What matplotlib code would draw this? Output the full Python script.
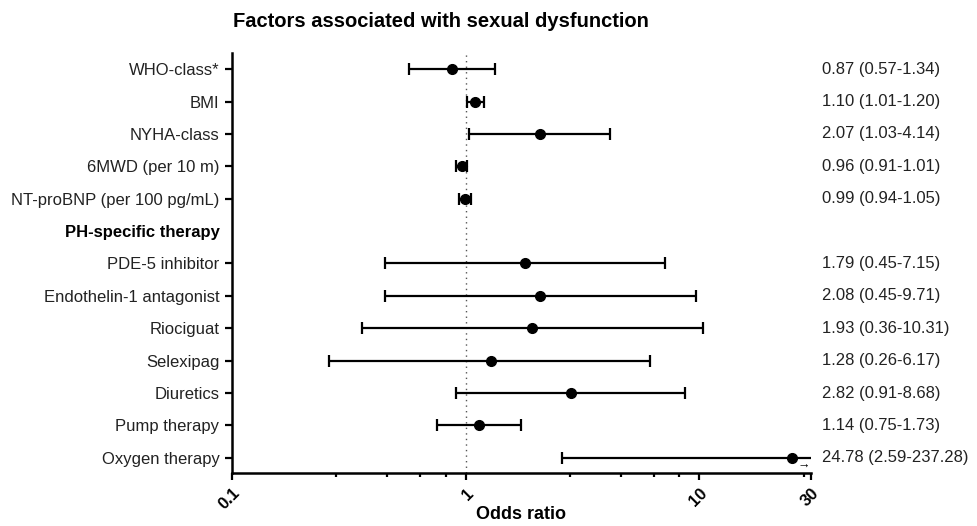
import numpy as np
import matplotlib.pyplot as plt
import matplotlib.transforms as mtransforms

plt.rcParams['font.family'] = ['Liberation Sans', 'DejaVu Sans']

# Dados do forest plot (NaN = linha de cabeçalho)
labels = ["WHO-class*", "BMI", "NYHA-class", "6MWD (per 10 m)",
          "NT-proBNP (per 100 pg/mL)", "PH-specific therapy",
          "PDE-5 inhibitor", "Endothelin-1 antagonist", "Riociguat",
          "Selexipag", "Diuretics", "Pump therapy", "Oxygen therapy"]
odds = [0.87, 1.10, 2.07, 0.96, 0.99, np.nan,
        1.79, 2.08, 1.93, 1.28, 2.82, 1.14, 24.78]
ci_low = [0.57, 1.01, 1.03, 0.91, 0.94, np.nan,
          0.45, 0.45, 0.36, 0.26, 0.91, 0.75, 2.59]
ci_high = [1.34, 1.20, 4.14, 1.01, 1.05, np.nan,
           7.15, 9.71, 10.31, 6.17, 8.68, 1.73, 237.28]
header_row = 5

x_major = [0.1, 1, 10, 30]
x_major_labels = ["0.1", "1", "10", "30"]
x_minor = [0.28, 0.46, 0.64, 0.82, 2.8, 4.6, 6.4, 8.2, 28]

odds = np.array(odds)
ci_low = np.array(ci_low)
ci_high = np.array(ci_high)
y = np.arange(len(labels))

fig = plt.figure(figsize=(9.78, 5.26), dpi=100)
ax = fig.add_axes([0.2372, 0.1008, 0.5920, 0.7984])

ax.axvline(1, color="#555555", linestyle=(0, (1, 3)), linewidth=1, zorder=1)

mask = ~np.isnan(odds)
ax.errorbar(odds[mask], y[mask],
            xerr=[odds[mask] - ci_low[mask], ci_high[mask] - odds[mask]],
            fmt="o", color="black", markersize=7, linewidth=1.6,
            capsize=4.5, capthick=1.6, zorder=3)

# texto OR (IC 95%) à direita
trans = mtransforms.blended_transform_factory(ax.transAxes, ax.transData)
for i in y[mask]:
    txt = f"{odds[i]:.2f} ({ci_low[i]:.2f}-{ci_high[i]:.2f})"
    ax.text(1.019, i, txt, transform=trans, ha="left", va="center",
            fontsize=12, color="#222222")

# seta indicando IC fora da escala
ax.annotate("→", xy=(30, 12), xytext=(-1, -6), textcoords="offset points",
            ha="right", va="center", fontsize=9, annotation_clip=False)

ax.set_xscale("log")
ax.set_xlim(0.1, 30)
ax.set_ylim(12.47, -0.5)
ax.set_xticks(x_major)
ax.set_xticklabels(x_major_labels, rotation=45, ha="right", va="top",
                   rotation_mode="anchor", fontsize=12, fontweight="bold")
ax.set_xticks(x_minor, minor=True)
ax.xaxis.set_minor_formatter(plt.NullFormatter())

ax.set_yticks(y)
ax.set_yticklabels(labels, fontsize=12, color="#222222")
ax.get_yticklabels()[header_row].set_fontweight("bold")
ax.get_yticklabels()[header_row].set_color("black")
ax.yaxis.get_major_ticks()[header_row].tick1line.set_visible(False)

ax.tick_params(axis="both", which="major", length=5, width=1.6, direction="out")
ax.tick_params(axis="x", which="minor", length=3, width=1.6)
ax.tick_params(axis="y", pad=4)
ax.tick_params(axis="x", pad=4)

for side in ["top", "right"]:
    ax.spines[side].set_visible(False)
for side in ["left", "bottom"]:
    ax.spines[side].set_linewidth(1.8)

ax.set_xlabel("Odds ratio", fontsize=13, fontweight="bold", va="center")
ax.xaxis.set_label_coords(0.5, -0.1)
fig.text(0.451, 0.96, "Factors associated with sexual dysfunction",
         ha="center", va="center", fontsize=14.5, fontweight="bold")

plt.savefig("out.png", dpi=100)
plt.close()
